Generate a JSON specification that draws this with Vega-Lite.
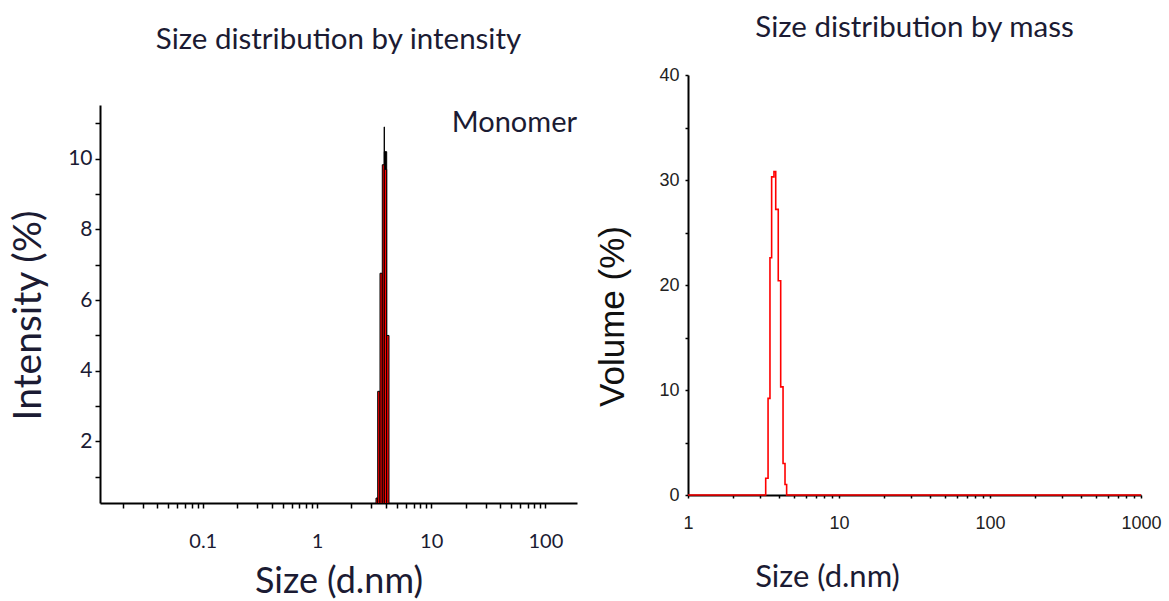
{
  "$schema": "https://vega.github.io/schema/vega-lite/v6.json",
  "padding": {"left": 9, "top": 12, "right": 0, "bottom": 0},
  "background": "#ffffff",
  "config": {"view": {"stroke": null}, "axis": {"grid": false}},
  "spacing": 18,
  "hconcat": [
    {
      "width": 477,
      "height": 428,
      "title": {"text": "Size distribution by intensity", "font": "Lato", "fontSize": 29.5, "fontWeight": "normal", "color": "#1b1b33", "offset": 20},
      "layer": [
        {
          "data": {"values": [
            {"series": "black", "size_from": 3.885, "size_to": 4.077, "intensity": 10.2},
            {"series": "black", "size_from": 3.878, "size_to": 3.892, "intensity": 10.9},
            {"series": "red", "size_from": 3.286, "size_to": 3.401, "intensity": 0.4},
            {"series": "red", "size_from": 3.401, "size_to": 3.562, "intensity": 3.42},
            {"series": "red", "size_from": 3.562, "size_to": 3.731, "intensity": 6.76},
            {"series": "red", "size_from": 3.731, "size_to": 3.885, "intensity": 9.83},
            {"series": "red", "size_from": 3.885, "size_to": 4.077, "intensity": 9.7},
            {"series": "red", "size_from": 4.077, "size_to": 4.271, "intensity": 5.0}
          ]},
          "mark": {"type": "rect", "clip": true, "stroke": "#000000", "strokeWidth": 1},
          "encoding": {
            "x": {
              "field": "size_from", "type": "quantitative",
              "scale": {"type": "log", "domain": [0.0126, 189], "nice": false},
              "axis": {
                "title": "Size (d.nm)", "titleFont": "Lato", "titleFontSize": 36, "titleFontWeight": "normal", "titleColor": "#1b1b33", "titlePadding": 13,
                "values": [0.02,0.03,0.04,0.05,0.06,0.07,0.08,0.09,0.1,0.2,0.3,0.4,0.5,0.6,0.7,0.8,0.9,1,2,3,4,5,6,7,8,9,10,20,30,40,50,60,70,80,90,100],
                "labelExpr": "abs(log(datum.value)/LN10 - round(log(datum.value)/LN10)) < 0.001 ? format(datum.value, '~g') : ''",
                "labelFont": "Lato", "labelFontSize": 20, "labelColor": "#1b1b33", "labelPadding": 23, "labelOverlap": false, "labelFlush": false,
                "tickSize": 5, "tickColor": "#000000", "tickWidth": 1.5, "domainColor": "#000000", "domainWidth": 2,
                "encode": {"ticks": {"update": {
                  "y": [{"test": "abs(log(datum.value)/LN10 - round(log(datum.value)/LN10)) < 0.001", "value": -3}, {"value": 0}],
                  "y2": [{"test": "abs(log(datum.value)/LN10 - round(log(datum.value)/LN10)) < 0.001", "value": 8}, {"value": 5}]
                }}}
              }
            },
            "x2": {"field": "size_to"},
            "y": {
              "field": "intensity", "type": "quantitative",
              "scale": {"domain": [0.26, 11.52], "nice": false, "zero": false, "range": [428, 30]},
              "axis": {
                "title": "Intensity (%)", "titleFont": "Lato", "titleFontSize": 39, "titleFontWeight": "normal", "titleColor": "#1b1b33", "titlePadding": 19, "titleY": 240,
                "values": [1,2,3,4,5,6,7,8,9,10,11],
                "labelExpr": "datum.value % 2 == 0 ? format(datum.value, 'd') : ''",
                "labelFont": "Lato", "labelFontSize": 21, "labelColor": "#1b1b33", "labelPadding": 3, "labelOverlap": false, "labelFlush": false,
                "tickSize": 5, "tickColor": "#000000", "tickWidth": 1.5, "domainColor": "#000000", "domainWidth": 2,
                "encode": {"ticks": {"update": {"x": {"value": 5}}}}
              }
            },
            "y2": {"datum": 0},
            "color": {"field": "series", "type": "nominal", "scale": {"domain": ["black", "red"], "range": ["#000000", "#ff0000"]}, "legend": null}
          }
        },
        {
          "data": {"values": [{"label": "Monomer"}]},
          "mark": {"type": "text", "align": "right", "baseline": "alphabetic", "font": "Lato", "fontSize": 29, "color": "#1b1b33"},
          "encoding": {
            "text": {"field": "label"},
            "x": {"datum": 189},
            "y": {"datum": 10.76}
          }
        }
      ]
    },
    {
      "width": 453,
      "height": 420,
      "title": {"text": "Size distribution by mass", "font": "Lato", "fontSize": 29.5, "fontWeight": "normal", "color": "#1b1b33", "offset": 23},
      "data": {"values": [
        {"size": 1, "volume": 0},
        {"size": 3.27, "volume": 1.6},
        {"size": 3.39, "volume": 9.2},
        {"size": 3.49, "volume": 22.6},
        {"size": 3.58, "volume": 30.3},
        {"size": 3.71, "volume": 30.8},
        {"size": 3.81, "volume": 27.2},
        {"size": 3.96, "volume": 20.4},
        {"size": 4.11, "volume": 10.3},
        {"size": 4.26, "volume": 3.0},
        {"size": 4.39, "volume": 1.0},
        {"size": 4.5, "volume": 0},
        {"size": 1000, "volume": 0}
      ]},
      "mark": {"type": "line", "interpolate": "step-after", "color": "#ff0000", "strokeWidth": 1.6},
      "encoding": {
        "x": {
          "field": "size", "type": "quantitative",
          "scale": {"type": "log", "domain": [1, 1000], "nice": false},
          "axis": {
            "title": "Size (d.nm)", "titleFont": "Lato", "titleFontSize": 31, "titleFontWeight": "normal", "titleColor": "#1b1b33", "titlePadding": 30, "titleX": 139,
            "values": [1,2,3,4,5,6,7,8,9,10,20,30,40,50,60,70,80,90,100,200,300,400,500,600,700,800,900,1000],
            "labelExpr": "abs(log(datum.value)/LN10 - round(log(datum.value)/LN10)) < 0.001 ? format(datum.value, '~g') : ''",
            "labelFont": "Liberation Sans", "labelFontSize": 18, "labelColor": "#222222", "labelPadding": 16, "labelOverlap": false, "labelFlush": false,
            "tickSize": 3, "tickColor": "#000000", "tickWidth": 1.5, "domainColor": "#000000", "domainWidth": 2,
            "encode": {"ticks": {"update": {
              "y": [{"test": "abs(log(datum.value)/LN10 - round(log(datum.value)/LN10)) < 0.001", "value": -5}, {"value": -3}],
              "y2": [{"test": "abs(log(datum.value)/LN10 - round(log(datum.value)/LN10)) < 0.001", "value": 5}, {"value": 3}]
            }}}
          }
        },
        "y": {
          "field": "volume", "type": "quantitative",
          "scale": {"domain": [0, 40], "nice": false},
          "axis": {
            "title": "Volume (%)", "titleFont": "Liberation Sans", "titleFontSize": 35, "titleFontWeight": "normal", "titleColor": "#111111", "titlePadding": 28, "titleY": 241,
            "values": [0,5,10,15,20,25,30,35,40],
            "labelExpr": "datum.value % 10 == 0 ? format(datum.value, 'd') : ''",
            "labelFont": "Liberation Sans", "labelFontSize": 18, "labelColor": "#222222", "labelPadding": 6, "labelOverlap": false, "labelFlush": false,
            "tickSize": 3, "tickColor": "#000000", "tickWidth": 1.5, "domainColor": "#000000", "domainWidth": 2,
            "encode": {"ticks": {"update": {"x": {"value": 3}}}}
          }
        }
      }
    }
  ]
}
